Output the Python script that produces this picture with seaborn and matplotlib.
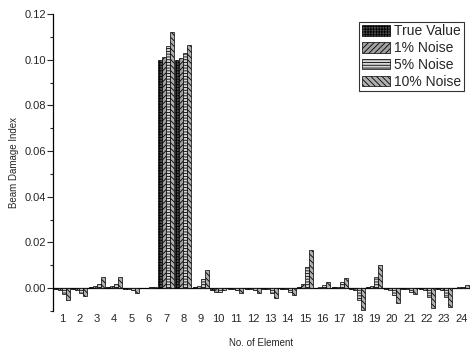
import numpy as np
import pandas as pd
import matplotlib
matplotlib.use("Agg")
import matplotlib.pyplot as plt
from matplotlib.patches import Patch
import seaborn as sns

elements = [str(i) for i in range(1, 25)]
series_names = ["True Value", "1% Noise", "5% Noise", "10% Noise"]

true_value = [-0.0003, -0.0003, 0.0003, 0.0003, -0.0002, 0.0001, 0.100, 0.100,
              0.0003, -0.0010, -0.0003, -0.0003, -0.0003, -0.0003, 0.0003, 0.0002,
              0.0003, -0.0003, 0.0003, -0.0003, -0.0003, -0.0003, -0.0003, 0.0001]
noise_1 = [-0.0010, -0.0010, 0.0010, 0.0010, -0.0005, 0.0002, 0.1013, 0.1010,
           0.0010, -0.0015, -0.0005, -0.0005, -0.0005, -0.0005, 0.0020, 0.0005,
           0.0005, -0.0010, 0.0010, -0.0010, -0.0005, -0.0010, -0.0010, 0.0003]
noise_5 = [-0.0025, -0.0020, 0.0020, 0.0020, -0.0010, 0.0003, 0.1060, 0.1030,
           0.0040, -0.0015, -0.0010, -0.0010, -0.0020, -0.0015, 0.0092, 0.0015,
           0.0025, -0.0050, 0.0050, -0.0030, -0.0015, -0.0040, -0.0040, 0.0005]
noise_10 = [-0.0053, -0.0035, 0.0050, 0.0050, -0.0020, 0.0005, 0.1120, 0.1066,
            0.0080, -0.0010, -0.0020, -0.0020, -0.0045, -0.0030, 0.0167, 0.0025,
            0.0045, -0.0096, 0.0100, -0.0066, -0.0025, -0.0088, -0.0083, 0.0012]

y_ticks = [0.00, 0.02, 0.04, 0.06, 0.08, 0.10, 0.12]

df = pd.DataFrame({
    "element": elements * 4,
    "series": np.repeat(series_names, len(elements)),
    "value": true_value + noise_1 + noise_5 + noise_10,
})

sns.set_style("white")
plt.rcParams["font.family"] = ["Liberation Sans", "DejaVu Sans"]
plt.rcParams["hatch.linewidth"] = 0.6

fig = plt.figure(figsize=(4.7, 3.53), dpi=100)
ax = fig.add_axes([0.113, 0.119, 0.887, 0.841])

sns.barplot(data=df, x="element", y="value", hue="series", order=elements,
            hue_order=series_names, width=0.92, gap=0, ax=ax,
            errorbar=None, legend=False)

# hatch pattern and fill shade per series
hatches = ["++++++", "//////", "------", "\\\\\\\\\\\\"]
faces = ["#505050", "#a0a0a0", "#d8d8d8", "#b0b0b0"]
for cont, h, fc in zip(ax.containers, hatches, faces):
    for p in cont.patches:
        p.set_facecolor(fc)
        p.set_edgecolor("black")
        p.set_linewidth(0.5)
        p.set_hatch(h)

handles = [Patch(facecolor=fc, edgecolor="black", hatch=h, linewidth=0.5)
           for h, fc in zip(hatches, faces)]
leg = ax.legend(handles, series_names, loc="upper right",
                bbox_to_anchor=(0.985, 0.975), fontsize=10, frameon=True,
                fancybox=False, edgecolor="black", handlelength=2.0,
                handleheight=0.8, handletextpad=0.3, borderpad=0.2,
                labelspacing=0.2, borderaxespad=0)
leg.get_frame().set_linewidth(0.8)

ax.set_xlim(-0.5, 23.5)
ax.set_ylim(-0.01, 0.12)
ax.axhline(0, color="black", linewidth=0.9, zorder=0.5)

for s in ["top", "right", "bottom"]:
    ax.spines[s].set_visible(False)
ax.spines["left"].set_color("black")
ax.spines["left"].set_linewidth(0.9)

ax.set_yticks(y_ticks)
ax.set_yticklabels([f"{t:.2f}" for t in y_ticks])
ax.set_yticks(np.arange(-0.01, 0.12, 0.02), minor=True)
ax.tick_params(axis="y", which="major", direction="out", length=4, width=0.8,
               labelsize=8, pad=1, left=True)
ax.tick_params(axis="y", which="minor", direction="out", length=2.5, width=0.8,
               left=True)
ax.tick_params(axis="x", length=0, labelsize=8, pad=2)

ax.set_xlabel("No. of Element", fontsize=7, labelpad=10)
ax.set_ylabel("Beam Damage Index", fontsize=7, labelpad=4)

fig.savefig("out.png", dpi=100)
